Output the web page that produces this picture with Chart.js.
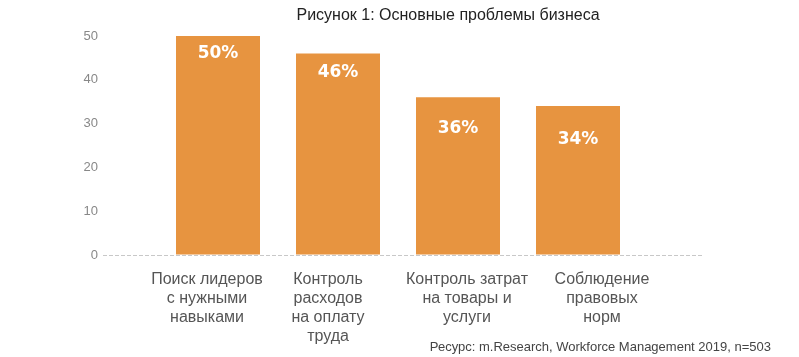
<!DOCTYPE html>
<html><head><meta charset="utf-8">
<script src="https://cdn.jsdelivr.net/npm/chart.js@4"></script>
<style>html,body{margin:0;padding:0;background:#fff}canvas{display:block}</style>
</head><body>
<canvas id="c" width="799" height="357"></canvas>
<script>
const categories = [
  ['Поиск лидеров','с нужными','навыками'],
  ['Контроль','расходов','на оплату','труда'],
  ['Контроль затрат','на товары и','услуги'],
  ['Соблюдение','правовых','норм']
];
const values = [50, 46, 36, 34];
const valueLabels = ['50%', '46%', '36%', '34%'];
const yMin = 0, yMax = 50, yStep = 10;
const titleText = 'Рисунок 1: Основные проблемы бизнеса';
const sourceText = 'Ресурс: m.Research, Workforce Management 2019, n=503';

const BAR = '#E79440';
const zeroOnly = (c) => (c.tick && c.tick.value === 0) ? '#c8c8c8' : 'rgba(0,0,0,0)';

const textPlugin = {
  id: 'textPlugin',
  afterDatasetsDraw(chart, args, opts) {
    const ctx = chart.ctx;
    ctx.save();
    const meta = chart.getDatasetMeta(0);
    ctx.fillStyle = '#ffffff';
    ctx.font = 'bold 17px "DejaVu Sans"';
    ctx.textAlign = 'center';
    ctx.textBaseline = 'middle';
    meta.data.forEach((el, i) => {
      ctx.fillText(valueLabels[i], el.x, el.y + opts.labelOffsets[i]);
    });
    // category labels, placed from the x scale
    const xs = chart.scales.x;
    ctx.fillStyle = '#555';
    ctx.font = '16px "Liberation Sans"';
    chart.data.labels.forEach((lines, i) => {
      const cx = xs.getPixelForValue(i) + opts.catDx[i];
      lines.forEach((t, k) => {
        ctx.fillText(t, cx, chart.chartArea.bottom + opts.catTop + k * opts.catLine);
      });
    });
    ctx.fillStyle = '#222';
    ctx.font = '16px "Liberation Sans"';
    ctx.fillText(titleText, opts.titleX, opts.titleY);
    ctx.fillStyle = '#444';
    ctx.font = '13px "Liberation Sans"';
    ctx.textAlign = 'right';
    ctx.fillText(sourceText, opts.sourceX, opts.sourceY);
    ctx.restore();
  }
};

new Chart(document.getElementById('c'), {
  type: 'bar',
  data: {
    labels: categories,
    datasets: [{
      data: values,
      backgroundColor: BAR,
      borderWidth: 0,
      barPercentage: 0.7,
      categoryPercentage: 1.0
    }]
  },
  options: {
    responsive: false,
    animation: false,
    events: [],
    layout: { padding: { top: 36, right: 97, bottom: 0, left: 0 } },
    plugins: {
      legend: { display: false },
      tooltip: { enabled: false },
      title: { display: false },
      textPlugin: {
        labelOffsets: [18, 19, 31, 33],
        catDx: [-11, -10, 9, 24], catTop: 25, catLine: 19,
        titleX: 448, titleY: 16, sourceX: 771, sourceY: 347
      }
    },
    scales: {
      x: {
        grid: { display: false },
        border: { display: false },
        ticks: { display: false },
        afterFit(s) { s.height = 102; }
      },
      y: {
        min: yMin, max: yMax,
        ticks: {
          stepSize: yStep,
          color: '#888',
          font: { family: 'Liberation Sans', size: 13 },
          padding: 5
        },
        grid: { color: zeroOnly, tickLength: 55, lineWidth: 1, tickBorderDash: [4, 2], tickColor: zeroOnly },
        border: { display: false, dash: [4, 2] },
        afterFit(s) { s.width = 158; }
      },
      yr: {
        position: 'right',
        min: yMin, max: yMax,
        ticks: { display: false, stepSize: yStep },
        grid: { drawOnChartArea: false, tickLength: 64, color: zeroOnly, tickColor: zeroOnly, tickBorderDash: [4, 2] },
        border: { display: false },
        afterFit(s) { s.width = 64; }
      }
    }
  },
  plugins: [textPlugin]
});
</script>
</body></html>
